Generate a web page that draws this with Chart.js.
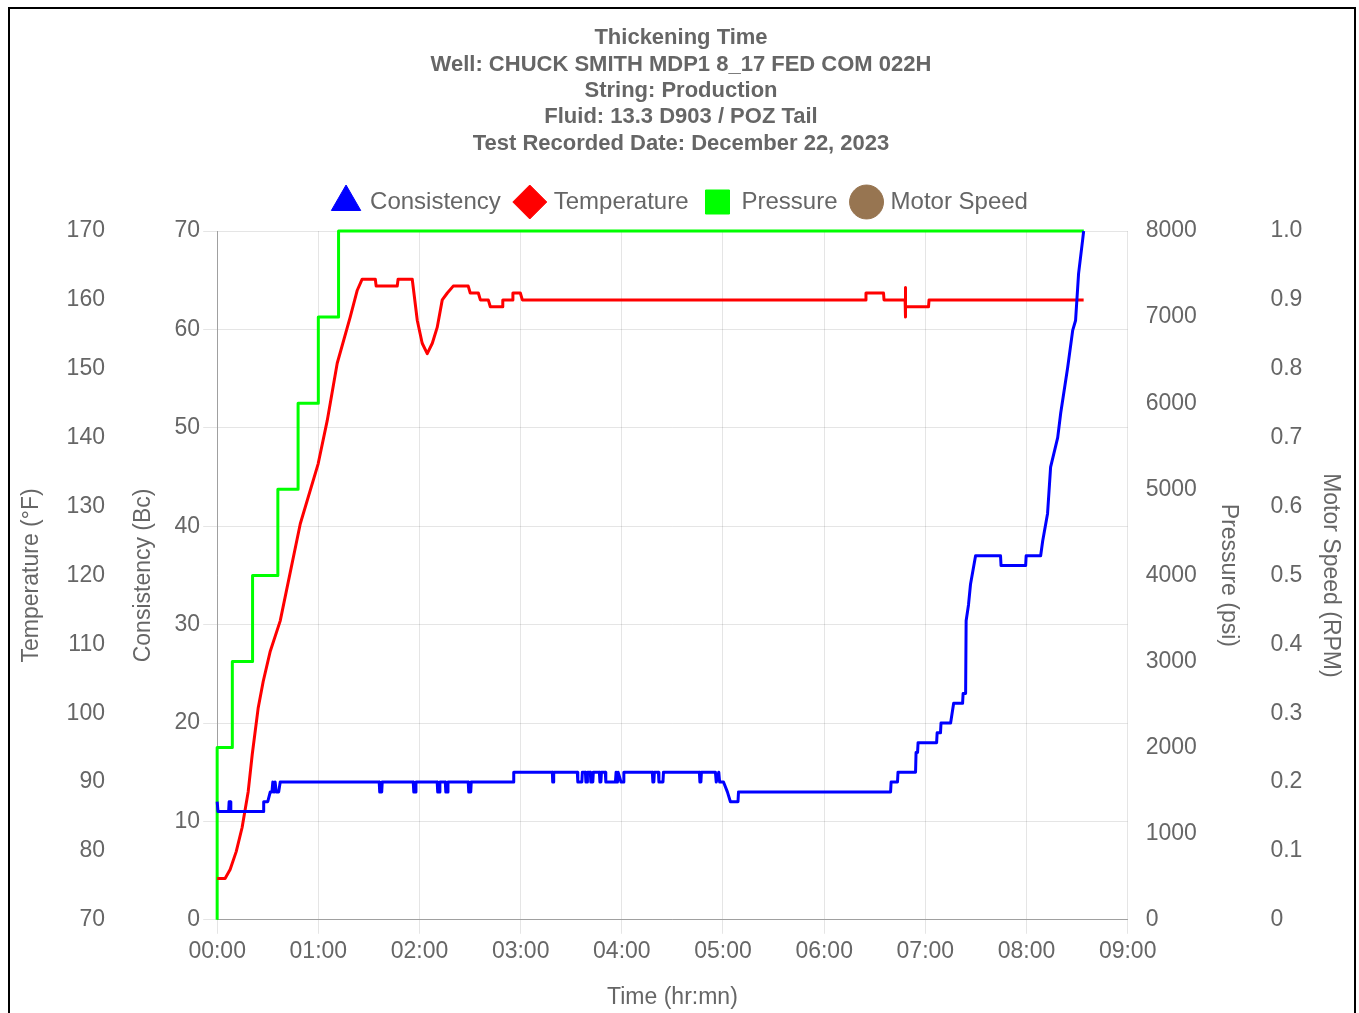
<!DOCTYPE html>
<html>
<head>
<meta charset="utf-8">
<script src="https://cdn.jsdelivr.net/npm/chart.js@4/dist/chart.umd.min.js"></script>
<style>
  body { margin: 0; background: #fff; }
  #frame { position: absolute; left: 8px; top: 7px; width: 1344px; height: 1010px; border: 2px solid #000; }
  canvas { display: block; }
</style>
</head>
<body>
<div id="frame"><canvas id="thickening-graph"></canvas></div>
<script>
// time in minutes since test start
const consistencyTime = [
  0, 0.5, 6.8, 7.1, 7.8, 8.1, 27.3, 27.6, 30, 31.5, 32.5, 33, 33.5, 34, 34.4, 35, 36.5, 37.4,
  96.1, 96.4, 97.6, 97.9, 116.3, 116.6, 117.6, 117.9, 130.5, 130.8, 131.8, 132.1,
  135.3, 135.6, 136.6, 136.9, 148.9, 149.2, 150.4, 150.7,
  175.6, 175.9,
  198.8, 199.0, 199.4, 199.6,
  213.6, 213.9, 216.3, 216.6,
  218.4, 218.7, 219.4, 219.6,
  221.3, 221.6, 222.8, 223.1,
  226.7, 227.0, 227.6, 227.9,
  230.2, 230.5, 236.2, 236.6, 237.4, 237.8, 239.5, 240.9, 241.2,
  258.1, 258.4, 259.0, 259.3,
  261.7, 262.0, 264.4, 264.7,
  286.0, 286.3, 286.9, 287.2,
  295.5, 296.0, 297.5, 298.0, 300.3, 302.6, 304.4, 308.9, 309.2,
  399.4, 399.7, 403.5, 403.8, 414.2, 414.5, 415.4, 415.7, 426.7, 427.0, 429.0, 429.3,
  435.0, 436.8, 442.1, 442.4, 443.9, 444.2, 445.6, 446.8, 449.8, 464.6, 464.9, 479.5,
  479.8, 488.4, 489.6, 492.5, 494.3, 498.5, 500.3, 504.4, 507.4, 509.1, 510.9, 513.3, 513.9,
];
const consistencyBc = [
  12, 11, 11, 12, 12, 11, 11, 12, 12, 13, 13, 14, 13, 13, 14, 13, 13, 14,
  14, 13, 13, 14, 14, 13, 13, 14, 14, 13, 13, 14,
  14, 13, 13, 14, 14, 13, 13, 14,
  14, 15,
  15, 14, 14, 15,
  15, 14, 14, 15,
  15, 14, 14, 15,
  15, 14, 14, 15,
  15, 14, 14, 15,
  15, 14, 14, 15, 14, 15, 14, 14, 15,
  15, 14, 14, 15,
  15, 14, 14, 15,
  15, 14, 14, 15,
  15, 14, 15, 14, 14, 13, 12, 12, 13,
  13, 14, 14, 15, 15, 17, 17, 18, 18, 19, 19, 20,
  20, 22, 22, 23, 23, 30.4, 32, 34.1, 37, 37, 36, 36,
  37, 37, 38.5, 41.3, 46, 49, 51.5, 56.1, 59.9, 60.9, 65.7, 69.1, 70,
];

const temperatureTime = [
  0, 4.7, 7.7, 11.3, 14.8, 18.4, 20.8, 24.3, 27.3, 31.5, 37.4, 49.3, 59.9, 65.3, 71.2, 78.9, 83.1, 86.0,
  93.8, 94.3, 106.8, 107.3, 115.7, 118.7, 121.6, 124.6, 127.6, 130.5, 133.5, 136.5,
  140.0, 148.9, 150.1, 154.9, 156.1, 160.8, 162.0, 169.1, 169.4, 175.1, 175.4, 179.8,
  181.0, 384.5, 384.8, 395.2, 395.5, 408.0, 408.1, 408.2, 408.4, 421.9, 422.2, 513.9,
];
const temperatureF = [
  76, 76, 77.3, 79.9, 83.4, 88.6, 94, 100.7, 104.6, 109, 113.4, 127.5, 136.2, 142.5, 150.8, 157.5, 161.4, 163,
  163, 162, 162, 163, 163, 157, 153.7, 152.2, 153.7, 156, 160, 161,
  162, 162, 161, 161, 160, 160, 159, 159, 160, 160, 161, 161,
  160, 160, 161, 161, 160, 160, 161.8, 157.5, 159, 159, 160, 160,
];

const pressureTime = [0, 0, 9, 21, 36, 48, 60, 72, 514];
const pressurePsi = [0, 2000, 3000, 4000, 5000, 6000, 7000, 8000, 8000];

const motorSpeedTime = [];
const motorSpeedRpm = [];

const titleLines = [
  "Thickening Time",
  "Well: CHUCK SMITH MDP1 8_17 FED COM 022H",
  "String: Production",
  "Fluid: 13.3 D903 / POZ Tail",
  "Test Recorded Date: December 22, 2023",
];

const toPoints = (xs, ys) => xs.map((x, i) => ({ x: x, y: ys[i] }));
const pad2 = (n) => String(n).padStart(2, "0");

const grey = "#666";
Chart.defaults.font.family = "'Liberation Sans', Arial, sans-serif";
Chart.defaults.color = grey;

// a bit more room between the legend and the plot
const legendSpacer = {
  id: "legendSpacer",
  beforeInit(chart) {
    const fit = chart.legend.fit;
    chart.legend.fit = function () {
      fit.bind(chart.legend)();
      this.height += 7;
    };
  },
};

const ctx = document.getElementById("thickening-graph").getContext("2d");

const thickeningGraph = new Chart(ctx, {
  type: "line",
  data: {
    datasets: [
      {
        label: "Consistency",
        data: toPoints(consistencyTime, consistencyBc),
        borderColor: "#0000ff",
        backgroundColor: "#0000ff",
        pointStyle: "triangle",
        yAxisID: "yConsistency",
      },
      {
        label: "Temperature",
        data: toPoints(temperatureTime, temperatureF),
        borderColor: "#ff0000",
        backgroundColor: "#ff0000",
        pointStyle: "rectRot",
        yAxisID: "yTemperature",
      },
      {
        label: "Pressure",
        data: toPoints(pressureTime, pressurePsi),
        borderColor: "#00ff00",
        backgroundColor: "#00ff00",
        pointStyle: "rect",
        stepped: true,
        yAxisID: "yPressure",
      },
      {
        label: "Motor Speed",
        data: toPoints(motorSpeedTime, motorSpeedRpm),
        borderColor: "#977551",
        backgroundColor: "#977551",
        pointStyle: "circle",
        yAxisID: "yMotor",
      },
    ],
  },
  options: {
    responsive: true,
    maintainAspectRatio: false,
    animation: false,
    layout: { padding: { left: 4, right: 6, top: 0, bottom: 4 } },
    datasets: { line: { clip: 4 } },
    elements: {
      point: { radius: 0, hoverRadius: 0 },
      line: { borderWidth: 3, tension: 0, borderJoinStyle: "round" },
    },
    plugins: {
      title: {
        display: true,
        text: titleLines,
        color: grey,
        font: { size: 22, weight: "bold", lineHeight: 1.2 },
        padding: { top: 16, bottom: 16 },
      },
      legend: {
        labels: {
          usePointStyle: true,
          color: grey,
          font: { size: 24 },
          padding: 17,
        },
      },
      tooltip: { enabled: false },
    },
    scales: {
      x: {
        type: "linear",
        min: 0,
        max: 540,
        ticks: {
          stepSize: 60,
          maxRotation: 0,
          padding: 4,
          font: { size: 23 },
          callback: (v) => pad2(Math.floor(v / 60)) + ":" + pad2(v % 60),
        },
        grid: { tickLength: 14, color: "rgba(0,0,0,0.1)" },
        border: { color: "rgba(0,0,0,0.3)" },
        title: { display: true, text: "Time (hr:mn)", font: { size: 23 }, padding: { top: 14, bottom: 4 } },
      },
      yTemperature: {
        position: "left",
        weight: 1,
        min: 70,
        max: 170,
        ticks: { stepSize: 10, padding: 21, font: { size: 23 } },
        grid: { display: false, drawTicks: false },
        border: { display: false },
        title: { display: true, text: "Temperature (°F)", font: { size: 23 }, padding: { top: 4, bottom: 0 } },
      },
      yConsistency: {
        position: "left",
        weight: 0,
        min: 0,
        max: 70,
        ticks: { stepSize: 10, padding: 3, font: { size: 23 } },
        grid: { tickLength: 14, color: "rgba(0,0,0,0.1)" },
        border: { color: "rgba(0,0,0,0.3)" },
        title: { display: true, text: "Consistency (Bc)", font: { size: 23 }, padding: { top: 4, bottom: 14 } },
      },
      yPressure: {
        position: "right",
        weight: 0,
        min: 0,
        max: 8000,
        ticks: { stepSize: 1000, padding: 18, font: { size: 23 }, callback: (v) => String(v) },
        grid: { display: false, drawTicks: false },
        border: { display: false },
        title: { display: true, text: "Pressure (psi)", font: { size: 23 }, padding: { top: 20, bottom: 0 } },
      },
      yMotor: {
        position: "right",
        weight: 1,
        min: 0,
        max: 1,
        ticks: { stepSize: 0.1, padding: 8, font: { size: 23 }, callback: (v) => (v === 0 ? "0" : v.toFixed(1)) },
        grid: { display: false, drawTicks: false },
        border: { display: false },
        title: { display: true, text: "Motor Speed (RPM)", font: { size: 23 }, padding: { top: 4, bottom: 6 } },
      },
    },
  },
  plugins: [legendSpacer],
});
</script>
</body>
</html>
